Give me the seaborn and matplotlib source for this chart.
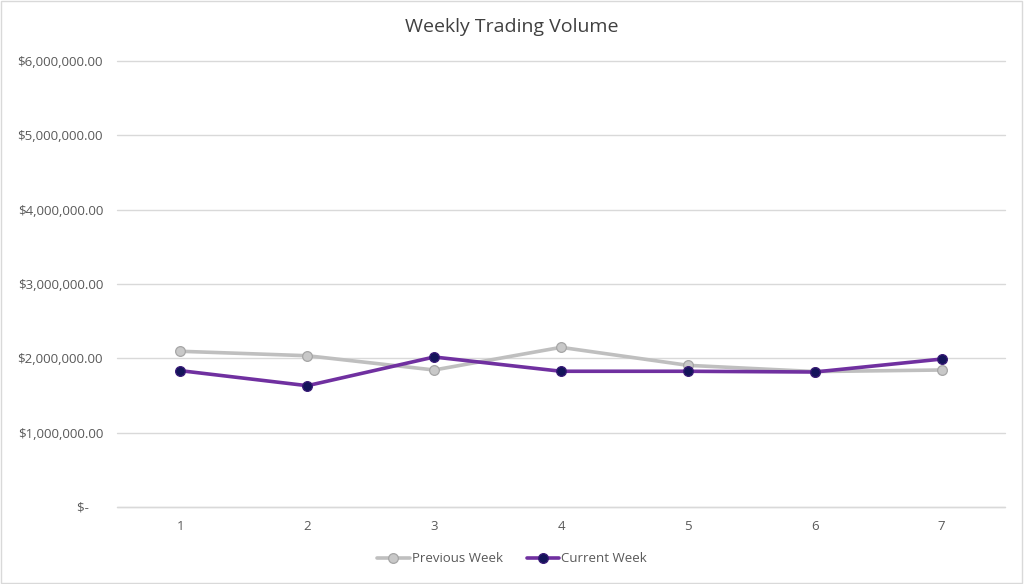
import matplotlib
matplotlib.use("Agg")
import matplotlib.pyplot as plt
import seaborn as sns
import pandas as pd
from matplotlib.ticker import FuncFormatter, MultipleLocator
from matplotlib.lines import Line2D
from matplotlib.patches import Rectangle

days = [1, 2, 3, 4, 5, 6, 7]
previous_week = [2095000, 2035000, 1843000, 2148000, 1906000, 1822000, 1843000]
current_week = [1834000, 1632000, 2018000, 1826000, 1826000, 1816000, 1990000]
series_names = ["Previous Week", "Current Week"]
title = "Weekly Trading Volume"

sns.set_theme(style="white")
plt.rcParams['font.family'] = ['Open Sans', 'DejaVu Sans']

df = pd.DataFrame({
    "day": days * 2,
    "value": previous_week + current_week,
    "series": [series_names[0]] * 7 + [series_names[1]] * 7,
})

fig = plt.figure(figsize=(10.24, 5.84), dpi=100)
ax = fig.add_axes([117/1024, 77/584, 888/1024, 446/584])

line_colors = {"Previous Week": "#BFBFBF", "Current Week": "#7030A0"}
marker_face = {"Previous Week": "#C8C8C8", "Current Week": "#14145A"}
marker_edge = {"Previous Week": "#A6A6A6", "Current Week": "#3A1A78"}

for name in series_names:
    sub = df[df["series"] == name]
    sns.lineplot(data=sub, x="day", y="value", ax=ax, color=line_colors[name],
                 linewidth=2.6, marker="o", markersize=7,
                 markerfacecolor=marker_face[name], markeredgecolor=marker_edge[name],
                 markeredgewidth=0.9, legend=False, zorder=3)

ax.set_xlim(0.5, 7.5)
ax.set_ylim(0, 6000000)
ax.yaxis.set_major_locator(MultipleLocator(1000000))
ax.set_xticks(days)
ax.set_xticklabels([str(d) for d in days])

def fmt(v, pos):
    if abs(v) < 1:
        return "$-    "
    return "${:,.2f}".format(v)

ax.yaxis.set_major_formatter(FuncFormatter(fmt))
ax.grid(axis="y", color="#D9D9D9", linewidth=1)
for gl in ax.get_ygridlines():
    gl.set_clip_on(False)
ax.axhline(0, color="#D9D9D9", linewidth=1, clip_on=False, zorder=1)
ax.set_axisbelow(True)
for s in ax.spines.values():
    s.set_visible(False)
ax.tick_params(axis="both", length=0, labelsize=9.5, labelcolor="#595959")
ax.tick_params(axis="y", pad=10)
ax.tick_params(axis="x", pad=9)
ax.set_xlabel("")
ax.set_ylabel("")

fig.text(0.5, 1 - 27/584, title, ha="center", va="center", fontsize=14, color="#404040")

handles = [
    Line2D([0], [0], color=line_colors[n], linewidth=2.6, marker="o", markersize=7,
           markerfacecolor=marker_face[n], markeredgecolor=marker_edge[n], markeredgewidth=0.9)
    for n in series_names
]
fig.legend(handles, series_names, loc="center", bbox_to_anchor=(0.5, 1 - 559/584),
           ncol=2, frameon=False, fontsize=9.5, labelcolor="#595959",
           handlelength=2.5, handletextpad=0.15, columnspacing=1.8)

fig.patches.append(Rectangle((0.0005, 0.001), 0.998, 0.997, transform=fig.transFigure,
                             fill=False, edgecolor="#D9D9D9", linewidth=1))

fig.savefig("out.png", dpi=100, facecolor="white")
